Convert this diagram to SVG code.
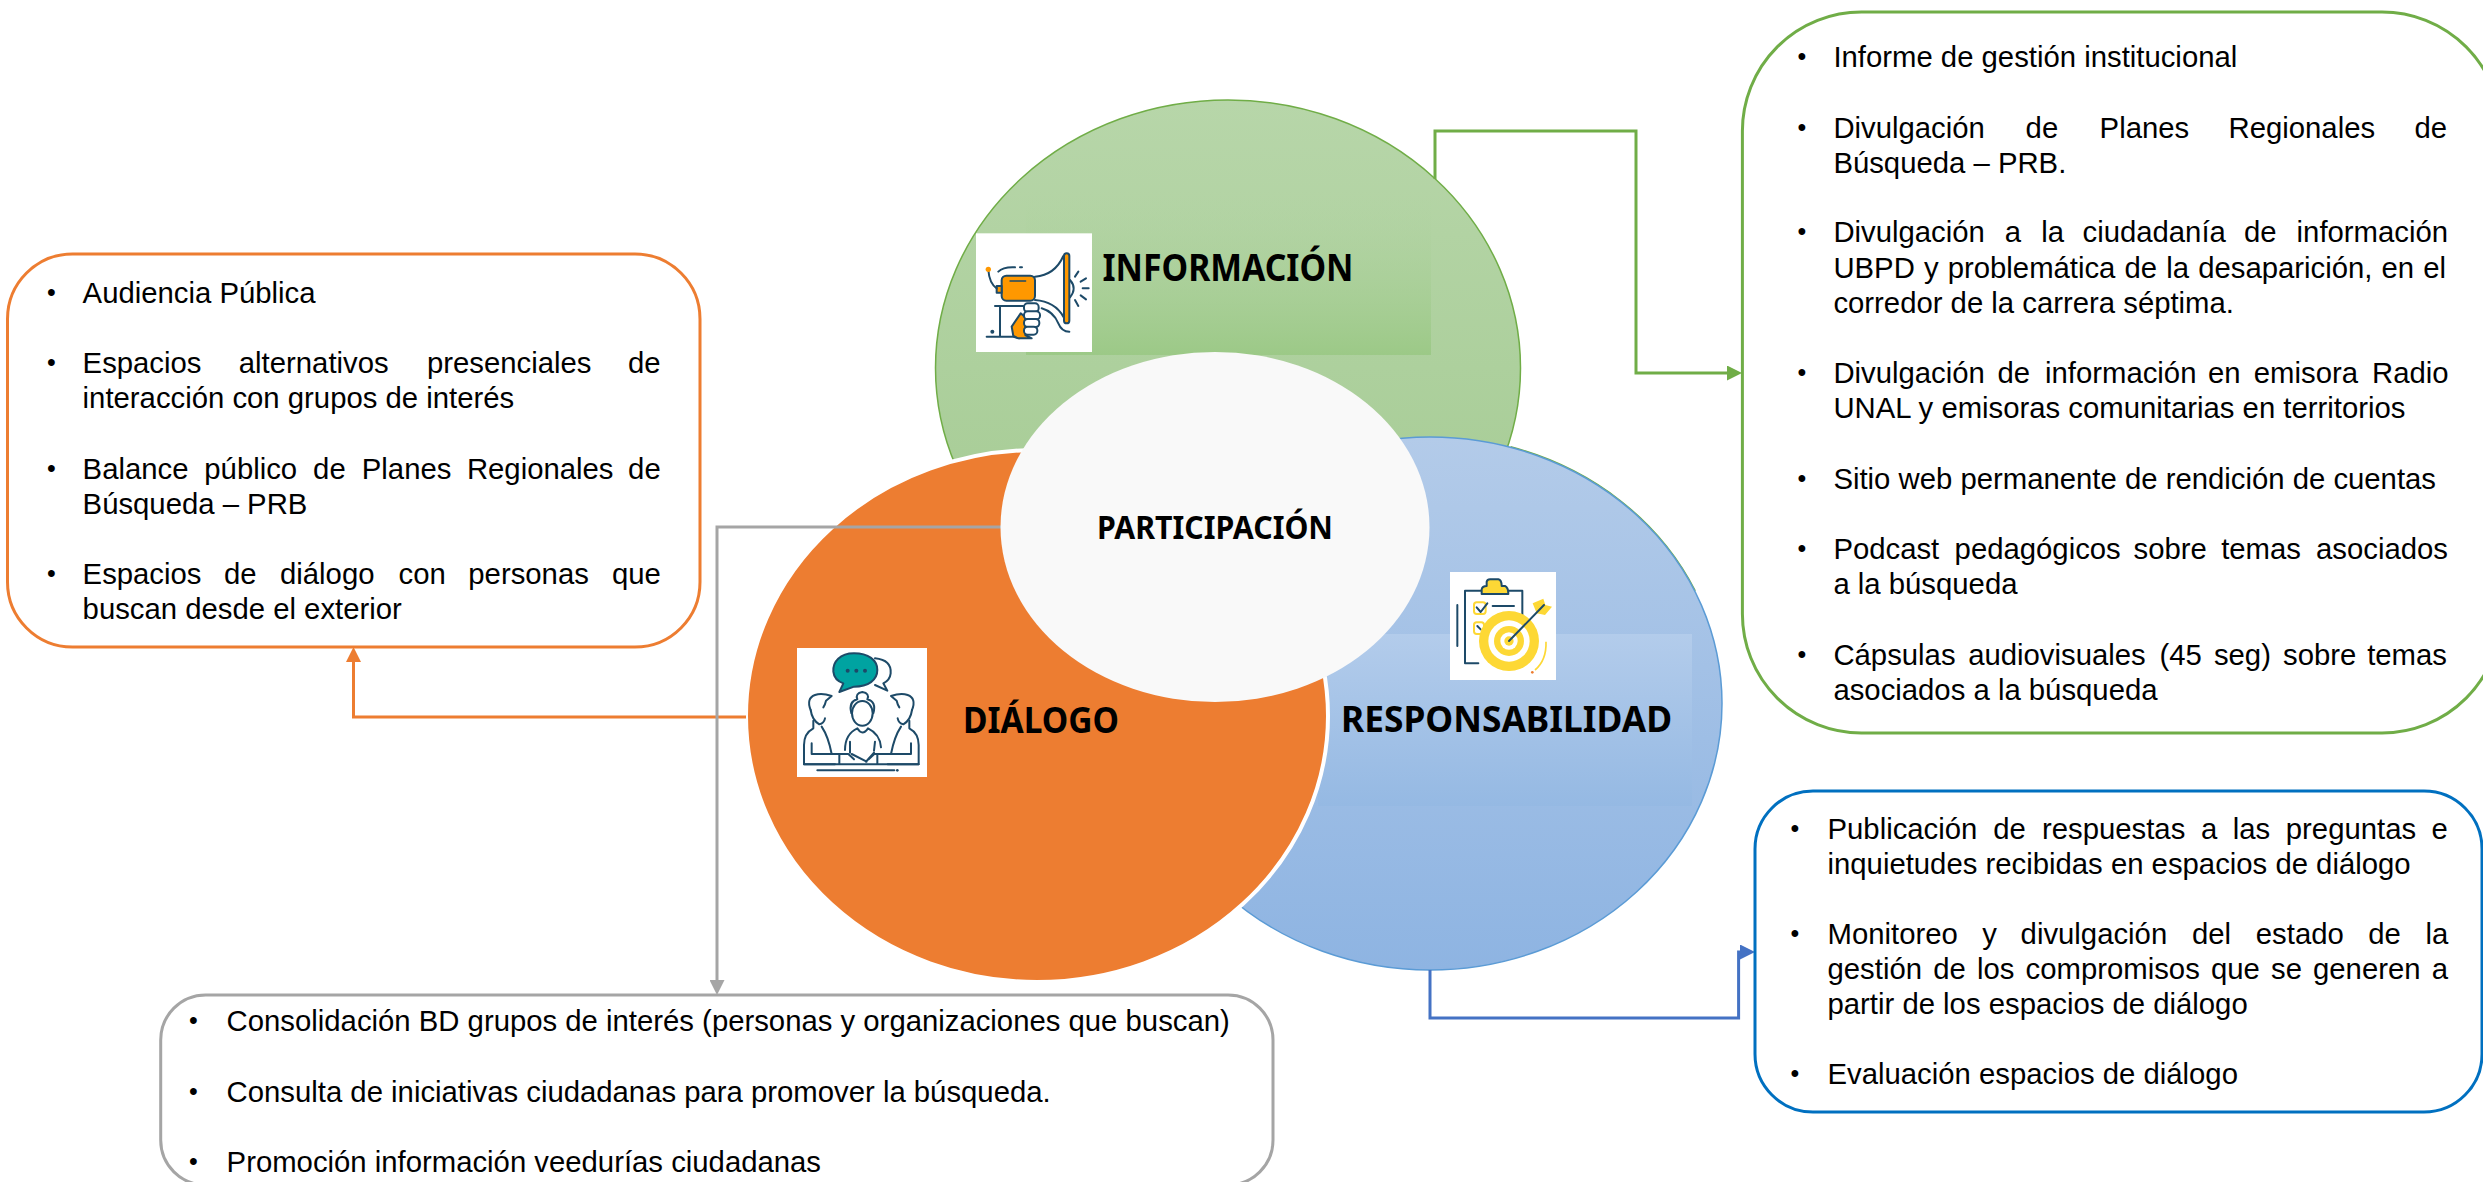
<svg xmlns="http://www.w3.org/2000/svg" width="2483" height="1182" viewBox="0 0 2483 1182">
<style>
.b{font-family:"Liberation Sans",Arial,sans-serif;font-size:29.3px;fill:#000}
.d{font-family:"Liberation Sans",Arial,sans-serif;font-size:25px;fill:#000;text-anchor:middle}
.h{font-family:"Noto Sans","Open Sans",sans-serif;font-weight:700;fill:#000}
.c{fill:none;stroke-width:3}
.box{fill:#fff;stroke-width:3}
.n{fill:none;stroke:#1d4a68;stroke-width:6;stroke-linecap:round;stroke-linejoin:round}
</style>
<defs>
<linearGradient id="gG" x1="0" y1="0" x2="0" y2="1"><stop offset="0" stop-color="#b7d6a9"/><stop offset="1" stop-color="#a3ca91"/></linearGradient>
<linearGradient id="gGr" x1="0" y1="0" x2="0" y2="1"><stop offset="0" stop-color="#b5d5a7" stop-opacity="0"/><stop offset="1" stop-color="#9cc987"/></linearGradient>
<linearGradient id="gB" x1="0" y1="0" x2="0" y2="1"><stop offset="0" stop-color="#b3cbe9"/><stop offset="1" stop-color="#8eb4e2"/></linearGradient>
<linearGradient id="gBr" x1="0" y1="0" x2="0" y2="1"><stop offset="0" stop-color="#b3cceb"/><stop offset="1" stop-color="#95b9e3"/></linearGradient>
<marker id="aG" markerUnits="userSpaceOnUse" markerWidth="15" markerHeight="15" refX="5" refY="7.5" orient="auto"><path d="M0 0L15 7.5L0 15Z" fill="#70ad47"/></marker>
<marker id="aO" markerUnits="userSpaceOnUse" markerWidth="15" markerHeight="15" refX="5" refY="7.5" orient="auto"><path d="M0 0L15 7.5L0 15Z" fill="#ed7d31"/></marker>
<marker id="aY" markerUnits="userSpaceOnUse" markerWidth="15" markerHeight="15" refX="5" refY="7.5" orient="auto"><path d="M0 0L15 7.5L0 15Z" fill="#a5a5a5"/></marker>
<marker id="aB" markerUnits="userSpaceOnUse" markerWidth="15" markerHeight="15" refX="5" refY="7.5" orient="auto"><path d="M0 0L15 7.5L0 15Z" fill="#4472c4"/></marker>
<g id="man">
<path class="n" d="M92 240Q78 205 105 195Q125 188 155 198L138 212Q135 225 130 232"/>
<path class="n" d="M92 240Q96 270 118 283Q132 280 135 265"/>
<path class="n" d="M100 272V295Q72 310 72 345V403H165"/>
<path class="n" d="M125 290Q145 320 155 372H205L222 388"/>
<path class="n" d="M95 340V372H155"/>
</g>
</defs>
<rect width="2483" height="1182" fill="#fff"/>

<g id="node-informacion">
<ellipse cx="1228" cy="368" rx="292.5" ry="268" fill="url(#gG)" stroke="#70ad47" stroke-width="1.5"/>
<rect x="1026" y="180" width="405" height="175" fill="url(#gGr)"/>
<g id="icon-megafono" transform="translate(960 220) scale(.33333)">
<rect x="48" y="40" width="348" height="356" fill="#fff"/>
<path class="n" d="M225 170Q285 165 310 108M225 240Q285 245 310 290"/>
<rect class="n" x="312" y="100" width="16" height="210" rx="8" style="fill:#ff9800"/>
<rect class="n" x="125" y="167" width="100" height="75" rx="14" style="fill:#ff9800"/>
<rect class="n" x="110" y="198" width="15" height="20" style="fill:#ff9800"/>
<path class="n" style="stroke-width:4" d="M150 183H197"/>
<path class="n" d="M330 180Q352 205 330 232M345 170L355 155M362 185L378 175M368 205H386M362 226L378 238M345 240L355 258"/>
<path class="n" d="M85 150Q88 190 110 205M115 155Q130 140 165 142M180 142H186"/>
<circle cx="85" cy="148" r="8" fill="#ff9800"/>
<path class="n" d="M190 258L105 258M120 258V350M80 350H160L178 355"/>
<circle cx="97" cy="335" r="6" fill="#1d4a68"/>
<path class="n" style="fill:#ff9800" d="M155 320L182 280L196 292V345L215 355H175L160 348Z"/>
<g class="n" style="fill:#fff"><rect x="192" y="250" width="44" height="26" rx="11"/><rect x="192" y="274" width="48" height="24" rx="11"/><rect x="192" y="297" width="46" height="24" rx="11"/><rect x="192" y="320" width="40" height="24" rx="11"/></g>
<path class="n" d="M245 265Q280 275 295 310Q305 335 328 335"/>
</g>
<text class="h" x="1102.5" y="281" font-size="37" textLength="251" lengthAdjust="spacingAndGlyphs">INFORMACIÓN</text>
</g>

<g id="node-responsabilidad">
<path d="M1510.5 447A292 266.5 0 0 1 1695 591" fill="none" stroke="#70ad47" stroke-width="2"/>
<ellipse cx="1430" cy="703.5" rx="292" ry="266.5" fill="url(#gB)" stroke="#5b9bd5" stroke-width="1.5"/>
<rect x="1318" y="634" width="374" height="172" fill="url(#gBr)"/>
<g id="icon-objetivo" transform="translate(1440 560) scale(.33333)">
<rect x="30" y="36" width="318" height="324" fill="#fff"/>
<path class="n" d="M115 310H75V92H125M205 92H247V165M52 135V258"/>
<path class="n" style="fill:#fdd835" d="M125 102V88Q127 78 140 78V65Q142 58 150 58H175Q185 60 185 78H195Q205 82 205 102Z"/>
<rect x="102" y="127" width="35" height="35" rx="8" fill="none" stroke="#fdd835" stroke-width="6"/>
<rect x="102" y="187" width="30" height="35" rx="8" fill="none" stroke="#fdd835" stroke-width="6"/>
<path class="n" d="M110 142L122 156L142 130M158 138H222M112 198L122 208"/>
<circle cx="207" cy="243" r="90" fill="#fdd835"/><circle cx="207" cy="243" r="62" fill="#fff"/><circle cx="207" cy="243" r="45" fill="#fdd835"/><circle cx="207" cy="243" r="26" fill="#fff"/><circle cx="207" cy="243" r="14" fill="#fdd835"/>
<path d="M278 130L310 116L316 135L336 140L315 165L290 160Z" fill="#fdd835"/>
<path class="n" d="M207 243L312 135"/>
<path d="M318 245Q320 300 285 330" fill="none" stroke="#fdd835" stroke-width="5"/>
<circle cx="277" cy="337" r="4" fill="#ed7d31"/>
</g>
<text class="h" x="1341" y="732" font-size="35" textLength="331" lengthAdjust="spacingAndGlyphs">RESPONSABILIDAD</text>
</g>

<g id="node-dialogo">
<ellipse cx="1037" cy="716" rx="291" ry="266" fill="#ed7d31" stroke="#fff" stroke-width="4"/>
<g id="icon-personas" transform="translate(780 630) scale(.33333)">
<rect x="51" y="54" width="390" height="387" fill="#fff"/>
<path class="n" d="M285 85Q335 90 332 130Q330 150 310 160L322 182L285 165"/>
<path class="n" style="fill:#00a3a1" d="M222 70C180 70 158 95 160 125C162 145 175 155 190 160L178 186L222 170C265 170 292 150 292 120C292 90 265 70 222 70Z"/>
<circle cx="203" cy="122" r="6" fill="#1d4a68"/><circle cx="229" cy="122" r="6" fill="#1d4a68"/><circle cx="255" cy="122" r="6" fill="#1d4a68"/>
<use href="#man"/>
<use href="#man" transform="translate(488 0) scale(-1 1)"/>
<ellipse class="n" cx="247" cy="250" rx="31" ry="37"/>
<path class="n" d="M214 250Q205 215 232 208Q225 190 247 186Q270 190 262 208Q290 215 280 250"/>
<path class="n" d="M195 360Q195 312 232 295Q247 320 264 295Q300 312 303 352M210 335V368M285 335L282 362"/>
<path class="n" d="M215 372L260 395M282 368L258 395"/>
<path class="n" d="M72 403H416M178 372V403M292 372V403"/>
<path class="n" d="M112 421H343"/><circle cx="352" cy="421" r="4" fill="#1d4a68"/>
</g>
<text class="h" x="963" y="733" font-size="35" textLength="156" lengthAdjust="spacingAndGlyphs">DIÁLOGO</text>
</g>

<g id="connectors">
<path class="c" stroke="#70ad47" d="M1435 179V131H1636V373H1732" marker-end="url(#aG)"/>
<path class="c" stroke="#ed7d31" d="M746 717H353.500V657" marker-end="url(#aO)"/>
<path class="c" stroke="#a5a5a5" d="M1001 527H717V985" marker-end="url(#aY)"/>
<path class="c" stroke="#4472c4" d="M1430 970V1018H1738.600V952H1745" marker-end="url(#aB)"/>
</g>

<g id="node-participacion">
<ellipse cx="1215" cy="527" rx="214.500" ry="175" fill="#f9f9f9"/>
<text class="h" x="1097" y="539" font-size="32" textLength="236" lengthAdjust="spacingAndGlyphs">PARTICIPACIÓN</text>
</g>

<g id="box-dialogo">
<rect class="box" x="7.500" y="254" width="692.500" height="393" rx="65" stroke="#ed7d31"/>
<g class="d"><text x="51.500" y="301">•</text><text x="51.500" y="371">•</text><text x="51.500" y="477">•</text><text x="51.500" y="582">•</text></g>
<g class="b">
<text x="82.600" y="303">Audiencia Pública</text>
<text x="82.600" y="373">Espacios <tspan x="238.800">alternativos</tspan> <tspan x="427">presenciales</tspan> <tspan x="628">de</tspan></text>
<text x="82.600" y="408">interacción con grupos de interés</text>
<text x="82.600" y="479">Balance <tspan x="204.300">público</tspan> <tspan x="313.100">de</tspan> <tspan x="361.800">Planes</tspan> <tspan x="466.900">Regionales</tspan> <tspan x="628.100">de</tspan></text>
<text x="82.600" y="514">Búsqueda – PRB</text>
<text x="82.600" y="584">Espacios <tspan x="224">de</tspan> <tspan x="280">diálogo</tspan> <tspan x="398.500">con</tspan> <tspan x="468.300">personas</tspan> <tspan x="612">que</tspan></text>
<text x="82.600" y="619">buscan desde el exterior</text>
</g>
</g>

<g id="box-informacion">
<rect class="box" x="1742.400" y="12" width="758.600" height="721" rx="119" stroke="#70ad47"/>
<g class="d"><text x="1801.800" y="65">•</text><text x="1801.800" y="136">•</text><text x="1801.800" y="240">•</text><text x="1801.800" y="381">•</text><text x="1801.800" y="487">•</text><text x="1801.800" y="557">•</text><text x="1801.800" y="663">•</text></g>
<g class="b">
<text x="1833.400" y="67">Informe de gestión institucional</text>
<text x="1833.400" y="138">Divulgación <tspan x="2025.600">de</tspan> <tspan x="2099.600">Planes</tspan> <tspan x="2228.500">Regionales</tspan> <tspan x="2414.400">de</tspan></text>
<text x="1833.400" y="173">Búsqueda – PRB.</text>
<text x="1833.400" y="242">Divulgación <tspan x="2004.700">a</tspan> <tspan x="2041.200">la</tspan> <tspan x="2082.500">ciudadanía</tspan> <tspan x="2244">de</tspan> <tspan x="2296.600">información</tspan></text>
<text x="1833.400" y="278">UBPD <tspan x="1923.900">y</tspan> <tspan x="1947.700">problemática</tspan> <tspan x="2124.500">de</tspan> <tspan x="2166.300">la</tspan> <tspan x="2198.200">desaparición,</tspan> <tspan x="2381.500">en</tspan> <tspan x="2423.200">el</tspan></text>
<text x="1833.400" y="313">corredor de la carrera séptima.</text>
<text x="1833.400" y="383">Divulgación <tspan x="1997.400">de</tspan> <tspan x="2045">información</tspan> <tspan x="2208">en</tspan> <tspan x="2253.800">emisora</tspan> <tspan x="2372">Radio</tspan></text>
<text x="1833.400" y="418">UNAL y emisoras comunitarias en territorios</text>
<text x="1833.400" y="489">Sitio web permanente de rendición de cuentas</text>
<text x="1833.400" y="559">Podcast <tspan x="1954.600">pedagógicos</tspan> <tspan x="2133.600">sobre</tspan> <tspan x="2221.200">temas</tspan> <tspan x="2316">asociados</tspan></text>
<text x="1833.400" y="594">a la búsqueda</text>
<text x="1833.400" y="665">Cápsulas <tspan x="1968.200">audiovisuales</tspan> <tspan x="2159.400">(45</tspan> <tspan x="2213.900">seg)</tspan> <tspan x="2283">sobre</tspan> <tspan x="2367.200">temas</tspan></text>
<text x="1833.400" y="700">asociados a la búsqueda</text>
</g>
</g>

<g id="box-responsabilidad">
<rect class="box" x="1755" y="791" width="727" height="321" rx="58" stroke="#0070c0"/>
<g class="d"><text x="1795" y="837">•</text><text x="1795" y="942">•</text><text x="1795" y="1082">•</text></g>
<g class="b">
<text x="1827.500" y="839">Publicación <tspan x="1993.300">de</tspan> <tspan x="2042">respuestas</tspan> <tspan x="2201">a</tspan> <tspan x="2232.800">las</tspan> <tspan x="2285.800">preguntas</tspan> <tspan x="2431.600">e</tspan></text>
<text x="1827.500" y="874">inquietudes recibidas en espacios de diálogo</text>
<text x="1827.500" y="944">Monitoreo <tspan x="1982.200">y</tspan> <tspan x="2020.600">divulgación</tspan> <tspan x="2191.900">del</tspan> <tspan x="2255.800">estado</tspan> <tspan x="2368.200">de</tspan> <tspan x="2425.600">la</tspan></text>
<text x="1827.500" y="979">gestión <tspan x="1933.200">de</tspan> <tspan x="1977">los</tspan> <tspan x="2025.600">compromisos</tspan> <tspan x="2211">que</tspan> <tspan x="2271">se</tspan> <tspan x="2313">generen</tspan> <tspan x="2431.700">a</tspan></text>
<text x="1827.500" y="1014">partir de los espacios de diálogo</text>
<text x="1827.500" y="1084">Evaluación espacios de diálogo</text>
</g>
</g>

<g id="box-participacion">
<rect class="box" x="160.700" y="995" width="1112.300" height="190" rx="45" stroke="#a5a5a5"/>
<g class="d"><text x="193.300" y="1029">•</text><text x="193.300" y="1100">•</text><text x="193.300" y="1170">•</text></g>
<g class="b">
<text x="226.600" y="1031">Consolidación BD grupos de interés (personas y organizaciones que buscan)</text>
<text x="226.600" y="1102">Consulta de iniciativas ciudadanas para promover la búsqueda.</text>
<text x="226.600" y="1172">Promoción información veedurías ciudadanas</text>
</g>
</g>
</svg>
